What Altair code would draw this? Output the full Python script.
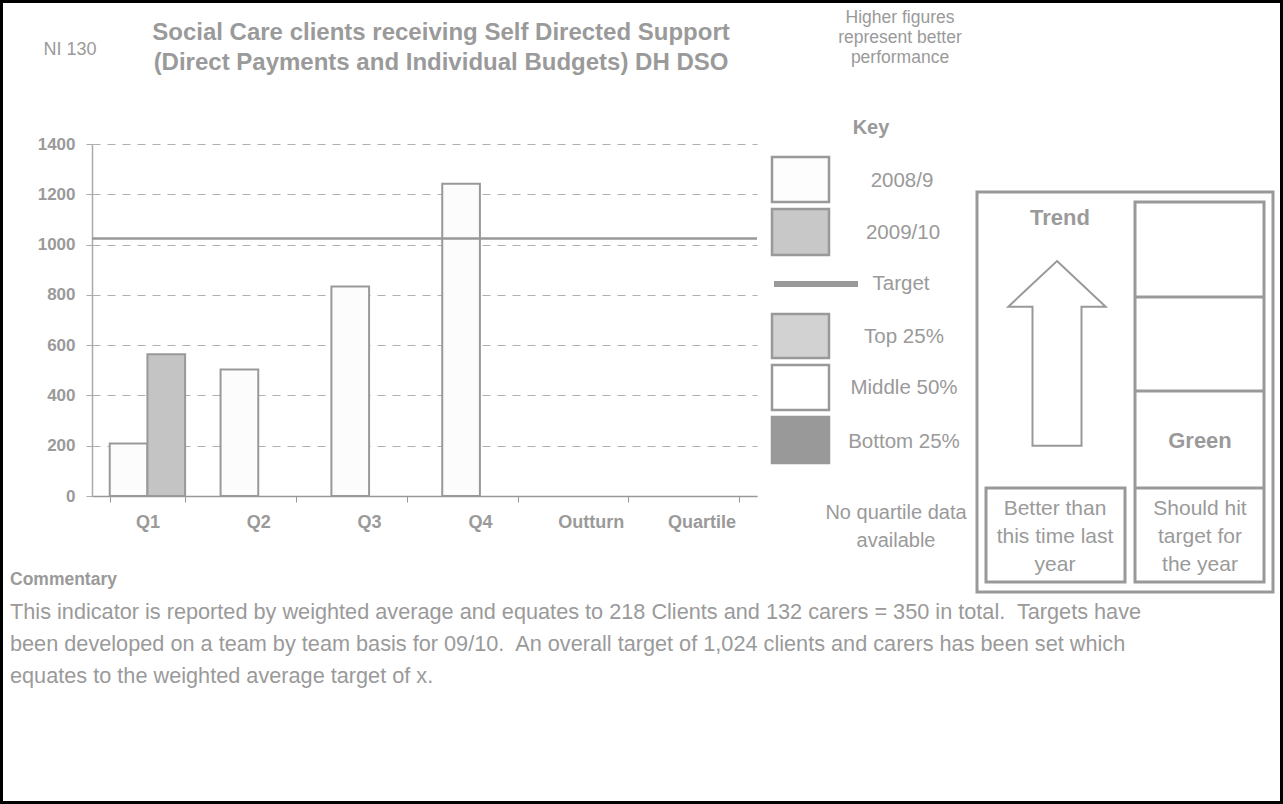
import altair as alt
import pandas as pd

# ---------------- data ----------------
quarters = ["Q1", "Q2", "Q3", "Q4", "Outturn", "Quartile"]
series = ["2008/9", "2009/10"]
values_2008_9 = [209, 503, 833, 1242, None, None]
values_2009_10 = [564, None, None, None, None, None]
target_value = [1024]
y_ticks = [0, 200, 400, 600, 800, 1000, 1200, 1400]

key_labels = ["2008/9", "2009/10", "Target", "Top 25%", "Middle 50%", "Bottom 25%"]
title_lines = ["Social Care clients receiving Self Directed Support",
               "(Direct Payments and Individual Budgets) DH DSO"]
indicator_code = "NI 130"
polarity_lines = ["Higher figures", "represent better", "performance"]
quartile_note = ["No quartile data", "available"]
trend_caption = ["Better than", "this time last", "year"]
rag_caption = ["Should hit", "target for", "the year"]
rag_status = "Green"
commentary_title = "Commentary"
commentary_lines = [
    "This indicator is reported by weighted average and equates to 218 Clients and 132 carers = 350 in total.\u00a0 Targets have",
    "been developed on a team by team basis for 09/10.\u00a0 An overall target of 1,024 clients and carers has been set which",
    "equates to the weighted average target of x.",
]

rows = []
for q, a, b in zip(quarters, values_2008_9, values_2009_10):
    if a is not None:
        rows.append({"quarter": q, "series": series[0], "value": a})
    if b is not None:
        rows.append({"quarter": q, "series": series[1], "value": b})
bar_df = pd.DataFrame(rows)

# ---------------- layout ----------------
W, H = 1283, 804
OX, OY = 92, 144          # plot origin on the page
PW, PH = 665, 352         # plot area
GREY = "#999999"
TXT = "#9a9a9a"
FONT = "Liberation Sans"
one = pd.DataFrame({"k": [0]})


def X(v):
    return alt.value(v - OX)


def Y(v):
    return alt.value(v - OY)


def text(label, x, y, size, bold=False, align="center", line_height=None, color=TXT):
    kw = dict(text=label, fontSize=size, font=FONT, color=color, align=align,
              baseline="middle", fontWeight="bold" if bold else "normal")
    if line_height is not None:
        kw["lineHeight"] = line_height
    return alt.Chart(one).mark_text(**kw).encode(x=X(x), y=Y(y))


def box(x1, y1, x2, y2, fill="white", stroke=GREY, sw=2.5):
    kw = dict(stroke=stroke, strokeWidth=sw)
    if fill is None:
        kw["fillOpacity"] = 0
        kw["fill"] = "white"
    else:
        kw["fill"] = fill
    return alt.Chart(one).mark_rect(**kw).encode(x=X(x1), x2=X(x2), y=Y(y1), y2=Y(y2))


def hline(x1, x2, y, sw=2.5, color=GREY):
    return alt.Chart(one).mark_rule(color=color, strokeWidth=sw).encode(
        x=X(x1), x2=X(x2), y=Y(y))


# ---------------- bar chart ----------------
bars = alt.Chart(bar_df).mark_bar(stroke=GREY, strokeWidth=2).encode(
    x=alt.X("quarter:N", sort=quarters,
            scale=alt.Scale(domain=quarters, paddingInner=0.32, paddingOuter=0.16),
            axis=alt.Axis(title=None, labelAngle=0, labelFont=FONT, labelFontSize=18,
                          labelFontWeight="bold", labelColor=TXT, domainColor=GREY,
                          domainWidth=1.5, tickColor=GREY, tickSize=6, tickBand="extent",
                          labelPadding=20, labelBaseline="middle")),
    xOffset=alt.XOffset("series:N", scale=alt.Scale(domain=series, paddingInner=0, paddingOuter=0)),
    y=alt.Y("value:Q", scale=alt.Scale(domain=[0, 1400], nice=False),
            axis=alt.Axis(title=None, values=y_ticks, format="d", labelFont=FONT, labelFontSize=17,
                          labelFontWeight="bold", labelColor=TXT, domainColor="#aaaaaa",
                          domainWidth=1.5, tickColor="#aaaaaa", tickSize=6, labelPadding=11,
                          grid=True, gridColor="#b0b0b0", gridDash=[8, 7], gridWidth=1.2)),
    fill=alt.Fill("series:N", scale=alt.Scale(domain=series, range=["#fcfcfc", "#c4c4c4"]),
                  legend=None),
)

target_rule = alt.Chart(pd.DataFrame({"target": target_value})).mark_rule(
    color=GREY, strokeWidth=2.5).encode(y="target:Q")

layers = [bars, target_rule]

# ---------------- header ----------------
layers.append(text(indicator_code, 70, 50, 18))
layers.append(text(title_lines, 441, 33, 24, bold=True, line_height=30))
layers.append(text(polarity_lines, 900, 18, 17.5, line_height=20))

# ---------------- key ----------------
layers.append(text("Key", 871, 128, 20, bold=True))
layers.append(box(772, 157, 829, 202, fill="#fdfdfd"))
layers.append(box(772, 209, 829, 255, fill="#c8c8c8"))
layers.append(alt.Chart(one).mark_rect(fill=GREY).encode(x=X(774), x2=X(858), y=Y(281), y2=Y(287)))
layers.append(box(772, 314, 829, 358, fill="#d2d2d2"))
layers.append(box(772, 365, 829, 410, fill="white"))
layers.append(box(772, 417, 829, 463, fill=GREY))
key_y = [181, 233, 284, 337, 388, 442]
key_x = [902, 903, 901, 904, 904, 904]
for lab, kx, ky in zip(key_labels, key_x, key_y):
    layers.append(text(lab, kx, ky, 20.5))
layers.append(text(quartile_note, 896, 513, 20, line_height=28))

# ---------------- trend / RAG panel ----------------
layers.append(box(977, 192, 1273, 592, fill=None, sw=3))
layers.append(text("Trend", 1060, 218, 22, bold=True))
arrow = ("M 0 -0.925 L 0.487 -0.468 L 0.245 -0.468 L 0.245 0.922 "
         "L -0.245 0.922 L -0.245 -0.468 L -0.487 -0.468 Z")
layers.append(alt.Chart(one).mark_point(shape=arrow, size=40000, filled=False, fill="white",
                                        stroke=GREY, strokeWidth=2, opacity=1)
              .encode(x=X(1057), y=Y(353.5)))
layers.append(box(1135, 202, 1264, 582, fill=None, sw=3))
layers.append(hline(1135, 1264, 297, sw=3))
layers.append(hline(1135, 1264, 391, sw=3))
layers.append(hline(1135, 1264, 488, sw=3))
layers.append(box(986, 488, 1125, 582, fill=None, sw=3))
layers.append(text(rag_status, 1200, 441, 22, bold=True))
layers.append(text(trend_caption, 1055, 509, 21, line_height=28))
layers.append(text(rag_caption, 1200, 509, 21, line_height=28))

# ---------------- commentary ----------------
layers.append(text(commentary_title, 10, 580, 17.5, bold=True, align="left"))
layers.append(text(commentary_lines, 10, 612, 21.7, align="left", line_height=32))

# ---------------- page frame ----------------
layers.append(box(1.5, 1.5, W - 1.5, H - 1.5, fill=None, stroke="black", sw=3))

chart = alt.layer(*layers).properties(
    width=PW, height=PH,
    autosize=alt.AutoSizeParams(type="none"),
    padding={"left": OX, "top": OY, "right": W - OX - PW, "bottom": H - OY - PH},
    background="white",
).configure_view(strokeWidth=0)

chart.save("out.html", embed_options={"renderer": "svg", "actions": False})
